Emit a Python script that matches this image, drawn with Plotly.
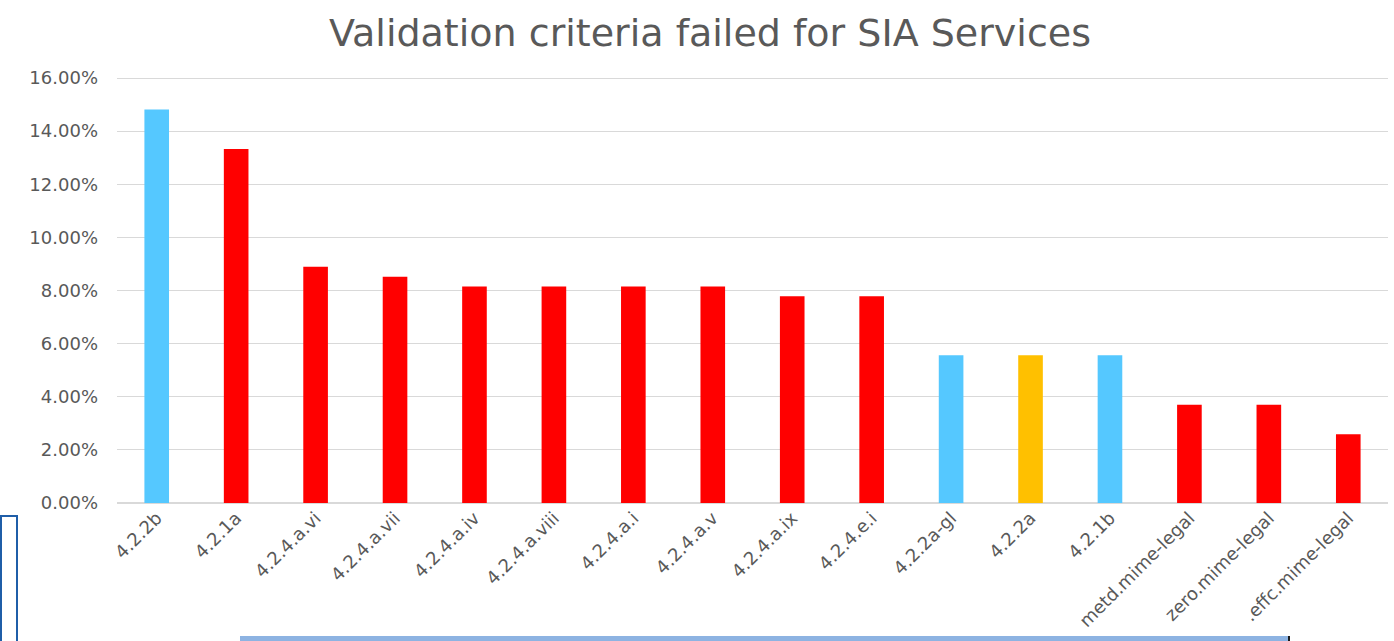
import plotly.graph_objects as go

categories = ["4.2.2b", "4.2.1a", "4.2.4.a.vi", "4.2.4.a.vii", "4.2.4.a.iv", "4.2.4.a.viii",
              "4.2.4.a.i", "4.2.4.a.v", "4.2.4.a.ix", "4.2.4.e.i", "4.2.2a-gl", "4.2.2a",
              "4.2.1b", "metd.mime-legal", "zero.mime-legal", ".effc.mime-legal"]
values = [0.1481, 0.1333, 0.0889, 0.0852, 0.0815, 0.0815, 0.0815, 0.0815, 0.0778, 0.0778,
          0.0556, 0.0556, 0.0556, 0.0370, 0.0370, 0.0259]
bar_colors = ["#55C8FF", "#FF0000", "#FF0000", "#FF0000", "#FF0000", "#FF0000", "#FF0000",
              "#FF0000", "#FF0000", "#FF0000", "#55C8FF", "#FFC000", "#55C8FF", "#FF0000",
              "#FF0000", "#FF0000"]
y_ticks = [0, 0.02, 0.04, 0.06, 0.08, 0.10, 0.12, 0.14, 0.16]

W, H = 1394, 641
L, R, T, B = 117, 6, 76, 138
pw, ph = W - L - R, H - T - B
y_top = 0.16 * ph / 425

def px(x):
    return (x - L) / pw

def py(y):
    return (H - B - y) / ph

fig = go.Figure(go.Bar(x=categories, y=values, marker=dict(color=bar_colors, line=dict(width=0)),
                       width=0.31))

fig.update_layout(
    width=W, height=H,
    margin=dict(l=L, r=R, t=T, b=B, autoexpand=False),
    paper_bgcolor="white", plot_bgcolor="white",
    title=dict(text="Validation criteria failed for SIA Services",
               font=dict(family="DejaVu Sans, Verdana", size=38, color="#595959"),
               x=710 / W, xanchor="center", xref="container", y=1 - 33 / H, yanchor="middle",
               yref="container"),
    font=dict(family="DejaVu Sans, Verdana", color="#595959"),
    showlegend=False,
    xaxis=dict(tickangle=-45, tickfont=dict(size=18, color="#595959"), showgrid=False,
               showline=False, ticks="", automargin=False),
    yaxis=dict(range=[0, y_top], tickvals=y_ticks, tickformat=".2%", showgrid=True,
               gridcolor="#D9D9D9", gridwidth=1, zeroline=True, zerolinecolor="#D9D9D9",
               tickfont=dict(size=18, color="#595959"), ticks="", ticklabelstandoff=18,
               automargin=False),
    shapes=[
        dict(type="rect", xref="paper", yref="paper", x0=px(1), x1=px(17), y0=py(516), y1=py(660),
             line=dict(color="#1F5EA8", width=2), fillcolor="rgba(0,0,0,0)", layer="above"),
        dict(type="rect", xref="paper", yref="paper", x0=px(240), x1=px(1289), y0=py(636), y1=py(660),
             line=dict(width=0), fillcolor="#8DB3E2", layer="above"),
        dict(type="rect", xref="paper", yref="paper", x0=px(1288), x1=px(1290), y0=py(636), y1=py(660),
             line=dict(width=0), fillcolor="#1A1A1A", layer="above"),
    ],
)

fig.write_html("out.html", config={"displayModeBar": False},
               post_script="document.body.style.margin='0';document.body.style.overflow='hidden';")
